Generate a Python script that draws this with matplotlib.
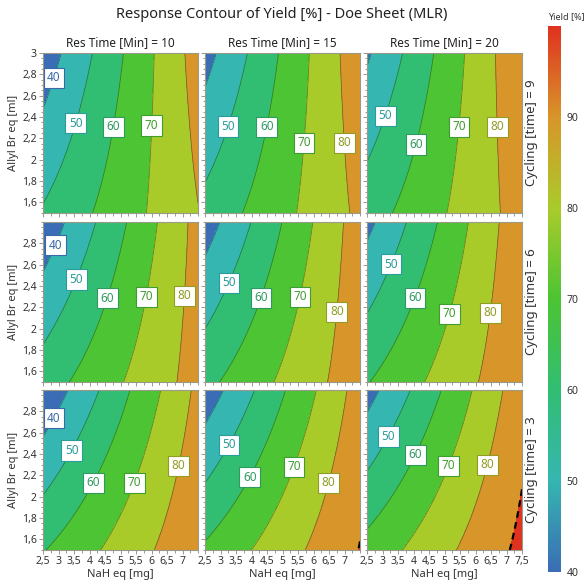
import numpy as np
import matplotlib.pyplot as plt
from matplotlib.colors import LinearSegmentedColormap, Normalize
from matplotlib.cm import ScalarMappable
from matplotlib.ticker import MultipleLocator, FuncFormatter

plt.rcParams['font.family'] = ['Noto Sans', 'DejaVu Sans']

res_times = [10, 15, 20]
cycling = [9, 6, 3]
levels = [40, 50, 60, 70, 80, 90]
band_colors = ['#3a6db5', '#35b6b0', '#31be72', '#4cc433', '#a9cb2a', '#d8952a', '#df321f']
label_colors = ['#3a68a8', '#2a9c9a', '#2e9a60', '#3f9c2e', '#929c24']

# points: (NaH, Allyl Br, yield level)
pts_t10_c9 = [(3.10, 3, 40), (4.08, 3, 50), (5.11, 3, 60), (6.11, 3, 70), (7.12, 3, 80),
              (2.5, 2.44, 40), (2.5, 1.59, 50), (4.08, 1.5, 60), (5.82, 1.5, 70), (7.5, 1.6, 80)]
pts_t15_c9 = [(2.88, 3, 40), (3.84, 3, 50), (4.87, 3, 60), (5.85, 3, 70), (6.85, 3, 80),
              (2.5, 2.66, 40), (2.5, 1.80, 50), (3.74, 1.5, 60), (5.46, 1.5, 70), (7.18, 1.5, 80)]
pts_t20_c9 = [(2.61, 3, 40), (3.63, 3, 50), (4.65, 3, 60), (5.65, 3, 70), (6.64, 3, 80),
              (2.5, 2.88, 40), (2.5, 1.98, 50), (3.33, 1.5, 60), (5.08, 1.5, 70), (6.80, 1.5, 80)]
pts_t10_c6 = [(3.20, 3, 40), (4.17, 3, 50), (5.19, 3, 60), (6.16, 3, 70), (7.18, 3, 80),
              (2.5, 2.53, 40), (2.5, 1.86, 50), (3.36, 1.5, 60), (5.08, 1.5, 70), (6.83, 1.5, 80)]
pts_t15_c6 = [(2.99, 3, 40), (3.96, 3, 50), (4.99, 3, 60), (5.98, 3, 70), (7.01, 3, 80),
              (2.5, 2.67, 40), (2.5, 2.00, 50), (2.99, 1.5, 60), (4.77, 1.5, 70), (6.50, 1.5, 80)]
pts_t20_c6 = [(2.79, 3, 40), (3.79, 3, 50), (4.79, 3, 60), (5.78, 3, 70), (6.77, 3, 80),
              (2.5, 2.81, 40), (2.5, 2.16, 50), (2.60, 1.5, 60), (4.27, 1.5, 70), (6.10, 1.5, 80)]
pts_t10_c3 = [(3.31, 3, 40), (4.33, 3, 50), (5.30, 3, 60), (6.30, 3, 70), (7.29, 3, 80),
              (2.5, 2.55, 40), (2.5, 2.02, 50), (2.55, 1.5, 60), (4.38, 1.5, 70), (6.10, 1.5, 80)]
pts_t15_c3 = [(3.06, 3, 40), (4.09, 3, 50), (5.10, 3, 60), (6.09, 3, 70), (7.07, 3, 80),
              (2.5, 2.72, 40), (2.5, 2.12, 50), (2.52, 1.58, 60), (4.20, 1.58, 70), (5.88, 1.58, 80),
              (7.45, 1.5, 90)]
pts_t20_c3 = [(2.91, 3, 40), (3.90, 3, 50), (4.90, 3, 60), (5.90, 3, 70), (6.87, 3, 80),
              (2.5, 2.79, 40), (2.5, 2.25, 50), (2.5, 1.72, 60), (3.69, 1.5, 70), (5.36, 1.5, 80),
              (7.09, 1.5, 90), (7.5, 2.08, 90)]

# where the contour labels sit (also on the contours)
lab_t10_c9 = [(2.83, 2.77, 40), (3.59, 2.34, 50), (4.73, 2.31, 60), (6.03, 2.32, 70)]
lab_t15_c9 = [(3.25, 2.31, 50), (4.46, 2.31, 60), (5.68, 2.16, 70), (6.97, 2.16, 80)]
lab_t20_c9 = [(3.12, 2.41, 50), (4.11, 2.14, 60), (5.46, 2.31, 70), (6.69, 2.31, 80)]
lab_t10_c6 = [(2.90, 2.78, 40), (3.58, 2.46, 50), (4.54, 2.29, 60), (5.78, 2.30, 70), (7.04, 2.31, 80)]
lab_t15_c6 = [(3.29, 2.43, 50), (4.31, 2.29, 60), (5.56, 2.30, 70), (6.75, 2.16, 80)]
lab_t20_c6 = [(3.31, 2.60, 50), (4.06, 2.29, 60), (5.16, 2.14, 70), (6.48, 2.15, 80)]
lab_t10_c3 = [(2.90, 2.73, 40), (3.44, 2.43, 50), (4.11, 2.13, 60), (5.44, 2.13, 70), (6.88, 2.29, 80)]
lab_t15_c3 = [(3.30, 2.48, 50), (3.95, 2.18, 60), (5.37, 2.28, 70), (6.48, 2.13, 80)]
lab_t20_c3 = [(3.21, 2.56, 50), (4.07, 2.39, 60), (5.15, 2.29, 70), (6.37, 2.30, 80)]

panels = {
    (10, 9): (pts_t10_c9, lab_t10_c9), (15, 9): (pts_t15_c9, lab_t15_c9), (20, 9): (pts_t20_c9, lab_t20_c9),
    (10, 6): (pts_t10_c6, lab_t10_c6), (15, 6): (pts_t15_c6, lab_t15_c6), (20, 6): (pts_t20_c6, lab_t20_c6),
    (10, 3): (pts_t10_c3, lab_t10_c3), (15, 3): (pts_t15_c3, lab_t15_c3), (20, 3): (pts_t20_c3, lab_t20_c3),
}


def terms(x, y, t, c):
    a = (x - 5) / 2.5
    b = (y - 2.25) / 0.75
    d = (t - 15) / 5.0
    e = (c - 6) / 3.0
    return [np.ones_like(a), a, b, d, e, a * b, b * d, b * e, a * d, a * e, d * e,
            a * a, b * b, d * d, e * e]


# MLR fit through the read points
rows, resp = [], []
for (t, c), (pts, labs) in panels.items():
    for x, y, v in pts + labs:
        rows.append(terms(np.float64(x), np.float64(y), t, c))
        resp.append(v)
coef = np.linalg.lstsq(np.array(rows, dtype=float), np.array(resp, dtype=float), rcond=None)[0]


def model(x, y, t, c):
    return sum(k * term for k, term in zip(coef, terms(x, y, t, c)))


fig = plt.figure(figsize=(5.88, 5.87), dpi=100)
W, H = 588.0, 587.0
col_left = [43, 205, 367]
row_top = [53, 222, 390]
pw, ph = 155, 160

gx, gy = np.meshgrid(np.linspace(2.5, 7.5, 250), np.linspace(1.5, 3, 250))
comma = FuncFormatter(lambda v, p: ('%g' % v).replace('.', ','))

for i, c in enumerate(cycling):
    for j, t in enumerate(res_times):
        ax = fig.add_axes([col_left[j] / W, 1 - (row_top[i] + ph) / H, pw / W, ph / H])
        z = model(gx, gy, t, c)
        ax.contourf(gx, gy, z, levels=[-500] + levels + [500], colors=band_colors)
        ax.contour(gx, gy, z, levels=levels[:-1], colors='#1e3a28', linewidths=0.55, alpha=0.55)
        ax.contour(gx, gy, z, levels=[90], colors='black', linewidths=1.6, linestyles=[(0, (3, 2))])

        labs = panels[(t, c)][1]
        lab_cs = ax.contour(gx, gy, z, levels=[l[2] for l in labs], colors='none')
        texts = ax.clabel(lab_cs, fmt='%1.0f', fontsize=8.5, inline=True, inline_spacing=2,
                          manual=[(l[0], l[1]) for l in labs],
                          colors=[label_colors[levels.index(l[2])] for l in labs])
        for tx in texts:
            tx.set_rotation(0)
            tx.set_bbox(dict(boxstyle='square,pad=0.3', fc='white', ec=tx.get_color(), lw=0.8))

        ax.set_xlim(2.5, 7.5)
        ax.set_ylim(1.5, 3)
        ax.set_xticks(np.arange(2.5, 7.6 if j == 2 else 7.1, 0.5))
        ax.set_yticks(np.arange(1.6, 3.01 if i == 0 else 2.81, 0.2))
        ax.xaxis.set_minor_locator(MultipleLocator(0.25))
        ax.yaxis.set_minor_locator(MultipleLocator(0.05))
        ax.xaxis.set_major_formatter(comma)
        ax.yaxis.set_major_formatter(comma)
        ax.tick_params(which='both', direction='out', colors='#888888', labelcolor='#333333',
                       labelsize=7.5, length=3, width=0.6, pad=1.5)
        ax.tick_params(which='minor', length=1.8)
        if i < 2:
            ax.tick_params(labelbottom=False)
        else:
            ax.set_xlabel('NaH eq [mg]', fontsize=8, color='#333333', labelpad=1)
        if j > 0:
            ax.tick_params(labelleft=False)
        else:
            ax.set_ylabel('Allyl Br eq [ml]', fontsize=8, color='#333333', labelpad=2)
        if i == 0:
            ax.set_title('Res Time [Min] = %d' % t, fontsize=8.5, color='#222222', pad=5)
        for s in ax.spines.values():
            s.set_color('#9a9a8a')
            s.set_linewidth(0.8)

    fig.text(531 / W, 1 - (row_top[i] + ph / 2) / H, 'Cycling [time] = %d' % c,
             rotation=90, ha='center', va='center', fontsize=9.5, color='#333333')

fig.text(282 / W, 1 - 14 / H, 'Response Contour of Yield [%] - Doe Sheet (MLR)',
         ha='center', va='center', fontsize=10.5, color='#222222')

# colorbar
cmap = LinearSegmentedColormap.from_list('yield', band_colors)
cax = fig.add_axes([548 / W, 1 - 572 / H, 13 / W, (572 - 26) / H])
cb = fig.colorbar(ScalarMappable(norm=Normalize(40, 100), cmap=cmap), cax=cax,
                  ticks=[40, 50, 60, 70, 80, 90])
cb.outline.set_visible(False)
cax.tick_params(length=0, labelsize=7.5, labelcolor='#333333', pad=4)
fig.text(566 / W, 1 - 17 / H, 'Yield [%]', ha='center', va='center', fontsize=6.5, color='#333333')

fig.savefig('out.png', dpi=100)
